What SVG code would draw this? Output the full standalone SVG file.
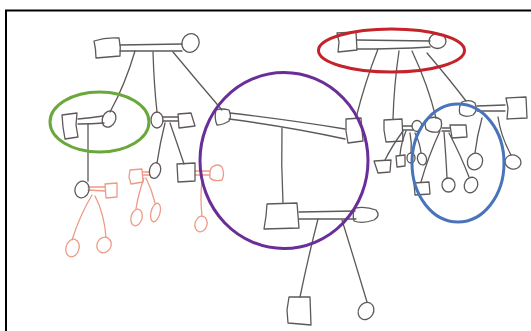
<svg xmlns="http://www.w3.org/2000/svg" width="531" height="331" viewBox="0 0 531 331">
<style>
.g{fill:none;stroke:#5e5959;stroke-width:1.3;stroke-linejoin:round;stroke-linecap:round}
.o{fill:none;stroke:#ee9a86;stroke-width:1.3;stroke-linejoin:round;stroke-linecap:round}
.hl{fill:none;stroke-width:3}
</style>
<rect width="531" height="331" fill="#ffffff"/>
<path d="M6 331 L6 10.5 L531 10.5" fill="none" stroke="#000" stroke-width="2"/>

<g id="connectors">
  <!-- marriage bars (double lines) -->
  <path class="g" d="M120 45 L182 44 M120 51 L182 51"/>
  <path class="g" d="M78 119 Q90 118 103 116 M78 124 Q92 124 104 123"/>
  <path class="g" d="M163 117 L178 117 M163 121 L178 121"/>
  <path class="g" d="M230 113 Q290 120 345 129 M229 119 Q290 127 345 139"/>
  <path class="g" d="M299 212 L355 211 M299 219 L356 219"/>
  <path class="g" d="M357 40 L430 41 M357 49 Q395 49 430 47"/>
  <path class="g" d="M403 126 L412 126 M403 130 L413 130"/>
  <path class="g" d="M442 128 L450 128 M442 131 L450 131"/>
  <path class="g" d="M477 106 L505 105 M477 111 L505 111"/>
  <path class="o" d="M88 187 L105 187 M88 190 L105 191"/>
  <path class="o" d="M143 172 L150 172 M143 175 L150 175"/>
  <path class="o" d="M195 171 L210 171 M195 175 L210 175"/>
  <!-- descent lines -->
  <path class="g" d="M135 51 Q125 85 110 112"/>
  <path class="g" d="M153 52 Q154 85 157 112"/>
  <path class="g" d="M173 52 Q198 82 222 110"/>
  <path class="g" d="M88 124 L88 181"/>
  <path class="g" d="M165 123 Q160 143 157 163"/>
  <path class="g" d="M170 123 Q177 143 184 164"/>
  <path class="g" d="M282 128 Q281 165 283 203"/>
  <path class="g" d="M318 219 Q308 258 300 297"/>
  <path class="g" d="M342 220 Q355 262 367 302"/>
  <path class="g" d="M378 49 Q365 82 356 118"/>
  <path class="g" d="M399 51 Q394 85 393 119"/>
  <path class="g" d="M412 51 Q428 85 436 118"/>
  <path class="g" d="M427 53 Q450 80 466 101"/>
  <path class="g" d="M403 131 Q392 146 385 160"/>
  <path class="g" d="M406 131 Q401 143 400 155"/>
  <path class="g" d="M410 133 Q412 143 411 153"/>
  <path class="g" d="M415 133 Q420 143 421 153"/>
  <path class="g" d="M440 131 Q428 157 421 182"/>
  <path class="g" d="M444 132 Q446 157 447 178"/>
  <path class="g" d="M449 133 Q461 156 469 177"/>
  <path class="g" d="M482 118 Q477 136 475 153"/>
  <path class="g" d="M498 117 Q501 137 511 155"/>
  <path class="o" d="M92 195 Q80 215 72 240"/>
  <path class="o" d="M95 196 Q104 213 106 237"/>
  <path class="o" d="M144 178 Q138 195 136 209"/>
  <path class="o" d="M146 178 Q152 190 155 203"/>
  <path class="o" d="M202 180 Q200 198 202 216"/>
</g>

<g id="n1"><path class="g" d="M94 41 Q106 37 119 38 Q121 47 120 56 Q108 57 96 58 Q96 49 94 41 Z"/></g>
<g id="n2"><ellipse class="g" cx="190.5" cy="43" rx="8.5" ry="9.5" transform="rotate(25 190.5 43)"/></g>
<g id="n3"><path class="g" d="M62 115 L77 113 L76 125 L78 137 L65 139 L63 127 Z"/></g>
<g id="n4"><ellipse class="g" cx="109" cy="119" rx="6.5" ry="8.5" transform="rotate(25 109 119)"/></g>
<g id="n5"><ellipse class="g" cx="157" cy="120" rx="6" ry="8"/></g>
<g id="n6"><path class="g" d="M178 114 L191 113 L195 126 L179 128 Z"/></g>
<g id="n7"><ellipse class="g" cx="82" cy="189.5" rx="7" ry="8.5" transform="rotate(15 82 189.5)"/></g>
<g id="n8"><path class="o" d="M105 184 L117 183 L117 197 L106 198 Z"/></g>
<g id="n9"><ellipse class="o" cx="72.5" cy="248" rx="6.5" ry="9" transform="rotate(15 72.5 248)"/></g>
<g id="n10"><ellipse class="o" cx="104" cy="245" rx="7" ry="8" transform="rotate(30 104 245)"/></g>
<g id="n11"><ellipse class="g" cx="155" cy="170.5" rx="5.5" ry="8" transform="rotate(15 155 170.5)"/></g>
<g id="n12"><path class="o" d="M130 170 L142 169 L143 182 L131 184 L129 177 Z"/></g>
<g id="n13"><ellipse class="o" cx="136.5" cy="217.5" rx="5.5" ry="8.5" transform="rotate(15 136.5 217.5)"/></g>
<g id="n14"><ellipse class="o" cx="155.5" cy="212.5" rx="4.5" ry="9.5" transform="rotate(15 155.5 212.5)"/></g>
<g id="n15"><path class="g" d="M177 164 L195 163 L195 181 L178 182 Z"/></g>
<g id="n16"><path class="o" d="M212 167 Q218 163 222 167 Q225 174 222 180 Q214 182 210 178 Q209 171 212 167 Z"/></g>
<g id="n17"><ellipse class="o" cx="201" cy="224" rx="6" ry="8" transform="rotate(15 201 224)"/></g>
<g id="n18"><path class="g" d="M216 110 Q222 108 229 110 Q232 117 229 121 Q223 125 217 125 Q214 118 216 110 Z"/></g>
<g id="n19"><path class="g" d="M346 119 L361 118 L363 141 L348 143 L346 131 Z"/></g>
<g id="n20"><path class="g" d="M267 204 L297 203 L299 228 L264 229 L266 216 Z"/></g>
<g id="n21"><path class="g" d="M355 208 Q366 206 376 210 Q381 216 374 220 Q362 224 354 221 Q352 214 355 208 Z"/></g>
<g id="n22"><path class="g" d="M289 297 L310 297 L311 325 L288 323 L287 310 Z"/></g>
<g id="n23"><ellipse class="g" cx="366" cy="311" rx="7.5" ry="9" transform="rotate(30 366 311)"/></g>
<g id="n24"><path class="g" d="M337 33 L356 32 L357 50 L338 52 L339 42 Z"/></g>
<g id="n25"><ellipse class="g" cx="437.5" cy="41" rx="8.5" ry="7.5"/></g>
<g id="n26"><path class="g" d="M384 120 L402 119 L403 141 L386 142 L384 130 Z"/></g>
<g id="n27"><ellipse class="g" cx="417" cy="126" rx="5" ry="5.5"/></g>
<g id="n28"><path class="g" d="M374 161 L391 160 L390 172 L378 173 Z"/></g>
<g id="n29"><path class="g" d="M396 156 L405 155 L405 166 L397 167 Z"/></g>
<g id="n30"><ellipse class="g" cx="411" cy="158" rx="4" ry="5"/></g>
<g id="n31"><ellipse class="g" cx="422" cy="159" rx="4.5" ry="6" transform="rotate(-15 422 159)"/></g>
<g id="n32"><path class="g" d="M427 119 Q436 115 441 120 Q443 128 438 132 Q430 133 426 129 Q424 123 427 119 Z"/></g>
<g id="n33"><path class="g" d="M450 125 L466 125 L467 137 L452 138 Z"/></g>
<g id="n34"><path class="g" d="M414 183 L429 182 L430 194 L415 195 Z"/></g>
<g id="n35"><ellipse class="g" cx="448.5" cy="185" rx="6.5" ry="7"/></g>
<g id="n36"><ellipse class="g" cx="471" cy="185" rx="6.5" ry="8" transform="rotate(25 471 185)"/></g>
<g id="n37"><path class="g" d="M462 102 Q470 99 475 103 Q478 111 473 115 Q465 118 460 114 Q458 107 462 102 Z"/></g>
<g id="n38"><path class="g" d="M506 98 L526 97 L527 118 L507 119 L508 108 Z"/></g>
<g id="n39"><ellipse class="g" cx="475" cy="161.5" rx="7.5" ry="8.5" transform="rotate(25 475 161.5)"/></g>
<g id="n40"><ellipse class="g" cx="513" cy="162" rx="8" ry="7" transform="rotate(15 513 162)"/></g>

<g id="highlights">
  <ellipse class="hl" cx="99.5" cy="122" rx="49.5" ry="30" stroke="#6aa83c"/>
  <ellipse class="hl" cx="284" cy="160.5" rx="84" ry="88" stroke="#6a2e98"/>
  <ellipse class="hl" cx="391.5" cy="50.5" rx="73" ry="21.5" stroke="#c4232b"/>
  <ellipse class="hl" cx="458" cy="163" rx="46" ry="59" stroke="#4a74b9"/>
</g>
</svg>
